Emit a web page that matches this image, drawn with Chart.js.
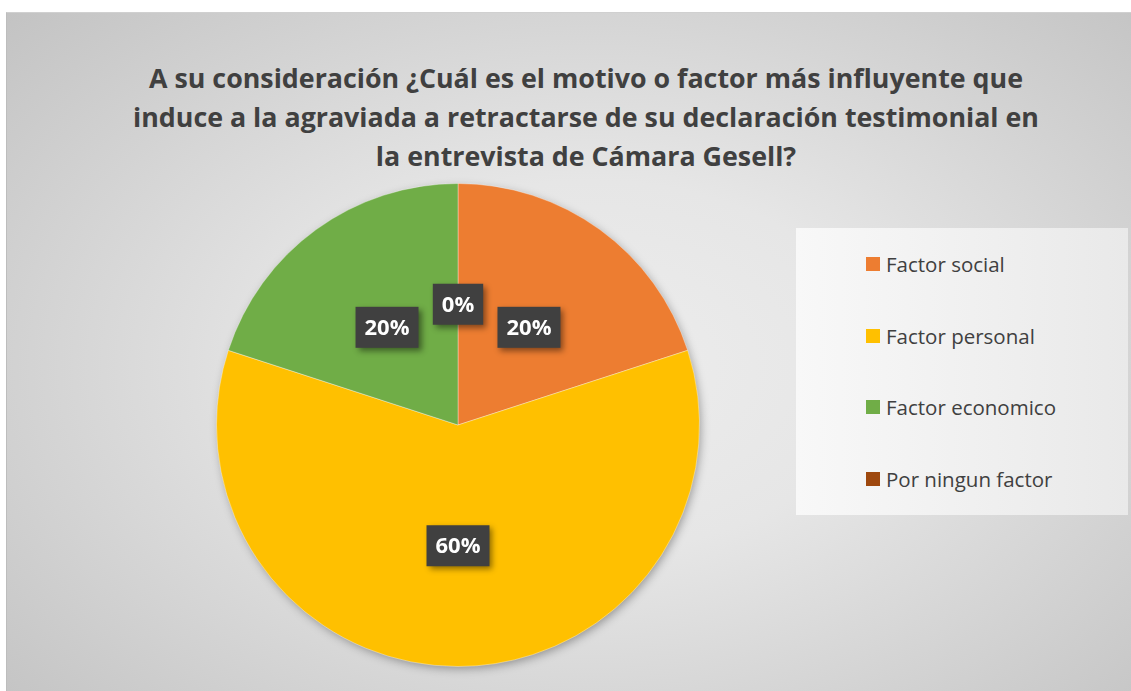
<!DOCTYPE html>
<html>
<head>
<meta charset="utf-8">
<script src="https://cdn.jsdelivr.net/npm/chart.js@4/dist/chart.umd.min.js"></script>
<style>
    body { margin: 0; background: #ffffff; width: 1131px; height: 691px; overflow: hidden; position: relative; font-family: 'Open Sans', sans-serif; }
    .chart-bg {
        position: absolute; left: 6px; top: 12px; width: 1125px; height: 679px;
        background: radial-gradient(ellipse 72% 78% at 52% 52%, #ededed 0%, #e6e6e6 35%, #c2c2c2 100%);
        border-left: 1px solid #bdbdbd; border-top: 1px solid #d0d0d0;
    }
    .chart-title {
        position: absolute; left: 36px; width: 1100px; top: 58px;
        text-align: center; font-weight: bold; font-size: 26.8px; line-height: 39.2px; color: #404040;
    }
    .legend-box {
        position: absolute; left: 796px; top: 228px; width: 332px; height: 287px;
        background: linear-gradient(to right, #f8f8f8, #e9e9e9);
    }
    .legend-item { position: absolute; left: 70px; height: 26px; display: flex; align-items: center; font-size: 20.5px; color: #404040; }
    .legend-item span.box { width: 14px; height: 14px; margin-right: 6px; display: inline-block; }
    canvas { position: absolute; left: 0; top: 0; }
</style>
</head>
<body>
<div class="chart-bg"></div>
<div class="chart-title">A su consideración ¿Cuál es el motivo o factor más influyente que<br>induce a la agraviada a retractarse de su declaración testimonial en<br>la entrevista de Cámara Gesell?</div>
<div class="legend-box" id="legend"></div>
<canvas id="myChart" width="1131" height="691"></canvas>
<script>
// Chart data
const categories = ['Factor social', 'Factor personal', 'Factor economico', 'Por ningun factor'];
const percentValues = [20, 60, 20, 0];
const sliceColors = ['#ED7D31', '#FFC000', '#70AD47', '#9E480E'];

document.addEventListener('DOMContentLoaded', function() {
    buildLegend();
    initializeChart();
});

// Legend on the right, one item per category
function buildLegend() {
    const legend = document.getElementById('legend');
    categories.forEach((name, i) => {
        const item = document.createElement('div');
        item.className = 'legend-item';
        item.style.top = (23 + i * 71.5) + 'px';
        item.innerHTML = '<span class="box" style="background:' + sliceColors[i] + '"></span>' + name;
        legend.appendChild(item);
    });
}

// Soft shadow behind the whole pie
const pieShadow = {
    id: 'pieShadow',
    beforeDatasetsDraw(chart) {
        const arc = chart.getDatasetMeta(0).data[0];
        if (!arc) return;
        const ctx = chart.ctx;
        ctx.save();
        ctx.shadowColor = 'rgba(0,0,0,0.35)';
        ctx.shadowBlur = 10;
        ctx.shadowOffsetX = 2;
        ctx.shadowOffsetY = 3;
        ctx.fillStyle = '#cccccc';
        ctx.beginPath();
        ctx.arc(arc.x, arc.y, arc.outerRadius - 1, 0, Math.PI * 2);
        ctx.fill();
        ctx.restore();
    }
};

// Dark boxed percentage labels
const boxLabels = {
    id: 'boxLabels',
    afterDatasetsDraw(chart) {
        const ctx = chart.ctx;
        const meta = chart.getDatasetMeta(0);
        ctx.save();
        ctx.font = 'bold 22px "Open Sans"';
        ctx.textAlign = 'center';
        ctx.textBaseline = 'middle';
        meta.data.forEach((arc, i) => {
            const pos = arc.tooltipPosition();
            const text = percentValues[i] + '%';
            const w = ctx.measureText(text).width + 18;
            const h = 41;
            ctx.save();
            ctx.shadowColor = 'rgba(0,0,0,0.45)';
            ctx.shadowBlur = 6;
            ctx.shadowOffsetX = 3;
            ctx.shadowOffsetY = 3;
            ctx.fillStyle = '#404040';
            ctx.fillRect(pos.x - w / 2, pos.y - h / 2, w, h);
            ctx.restore();
            ctx.fillStyle = '#ffffff';
            ctx.fillText(text, pos.x, pos.y + 1);
        });
        ctx.restore();
    }
};

function initializeChart() {
    const ctx = document.getElementById('myChart');
    new Chart(ctx, {
        type: 'pie',
        data: {
            labels: categories,
            datasets: [{
                data: percentValues,
                backgroundColor: sliceColors,
                borderColor: 'rgba(255,255,255,0.35)',
                borderWidth: 1
            }]
        },
        options: {
            responsive: false,
            animation: false,
            layout: {
                padding: { left: 216, right: 431, top: 183, bottom: 24 }
            },
            plugins: {
                legend: { display: false },
                tooltip: { enabled: false }
            }
        },
        plugins: [pieShadow, boxLabels]
    });
}
</script>
</body>
</html>
